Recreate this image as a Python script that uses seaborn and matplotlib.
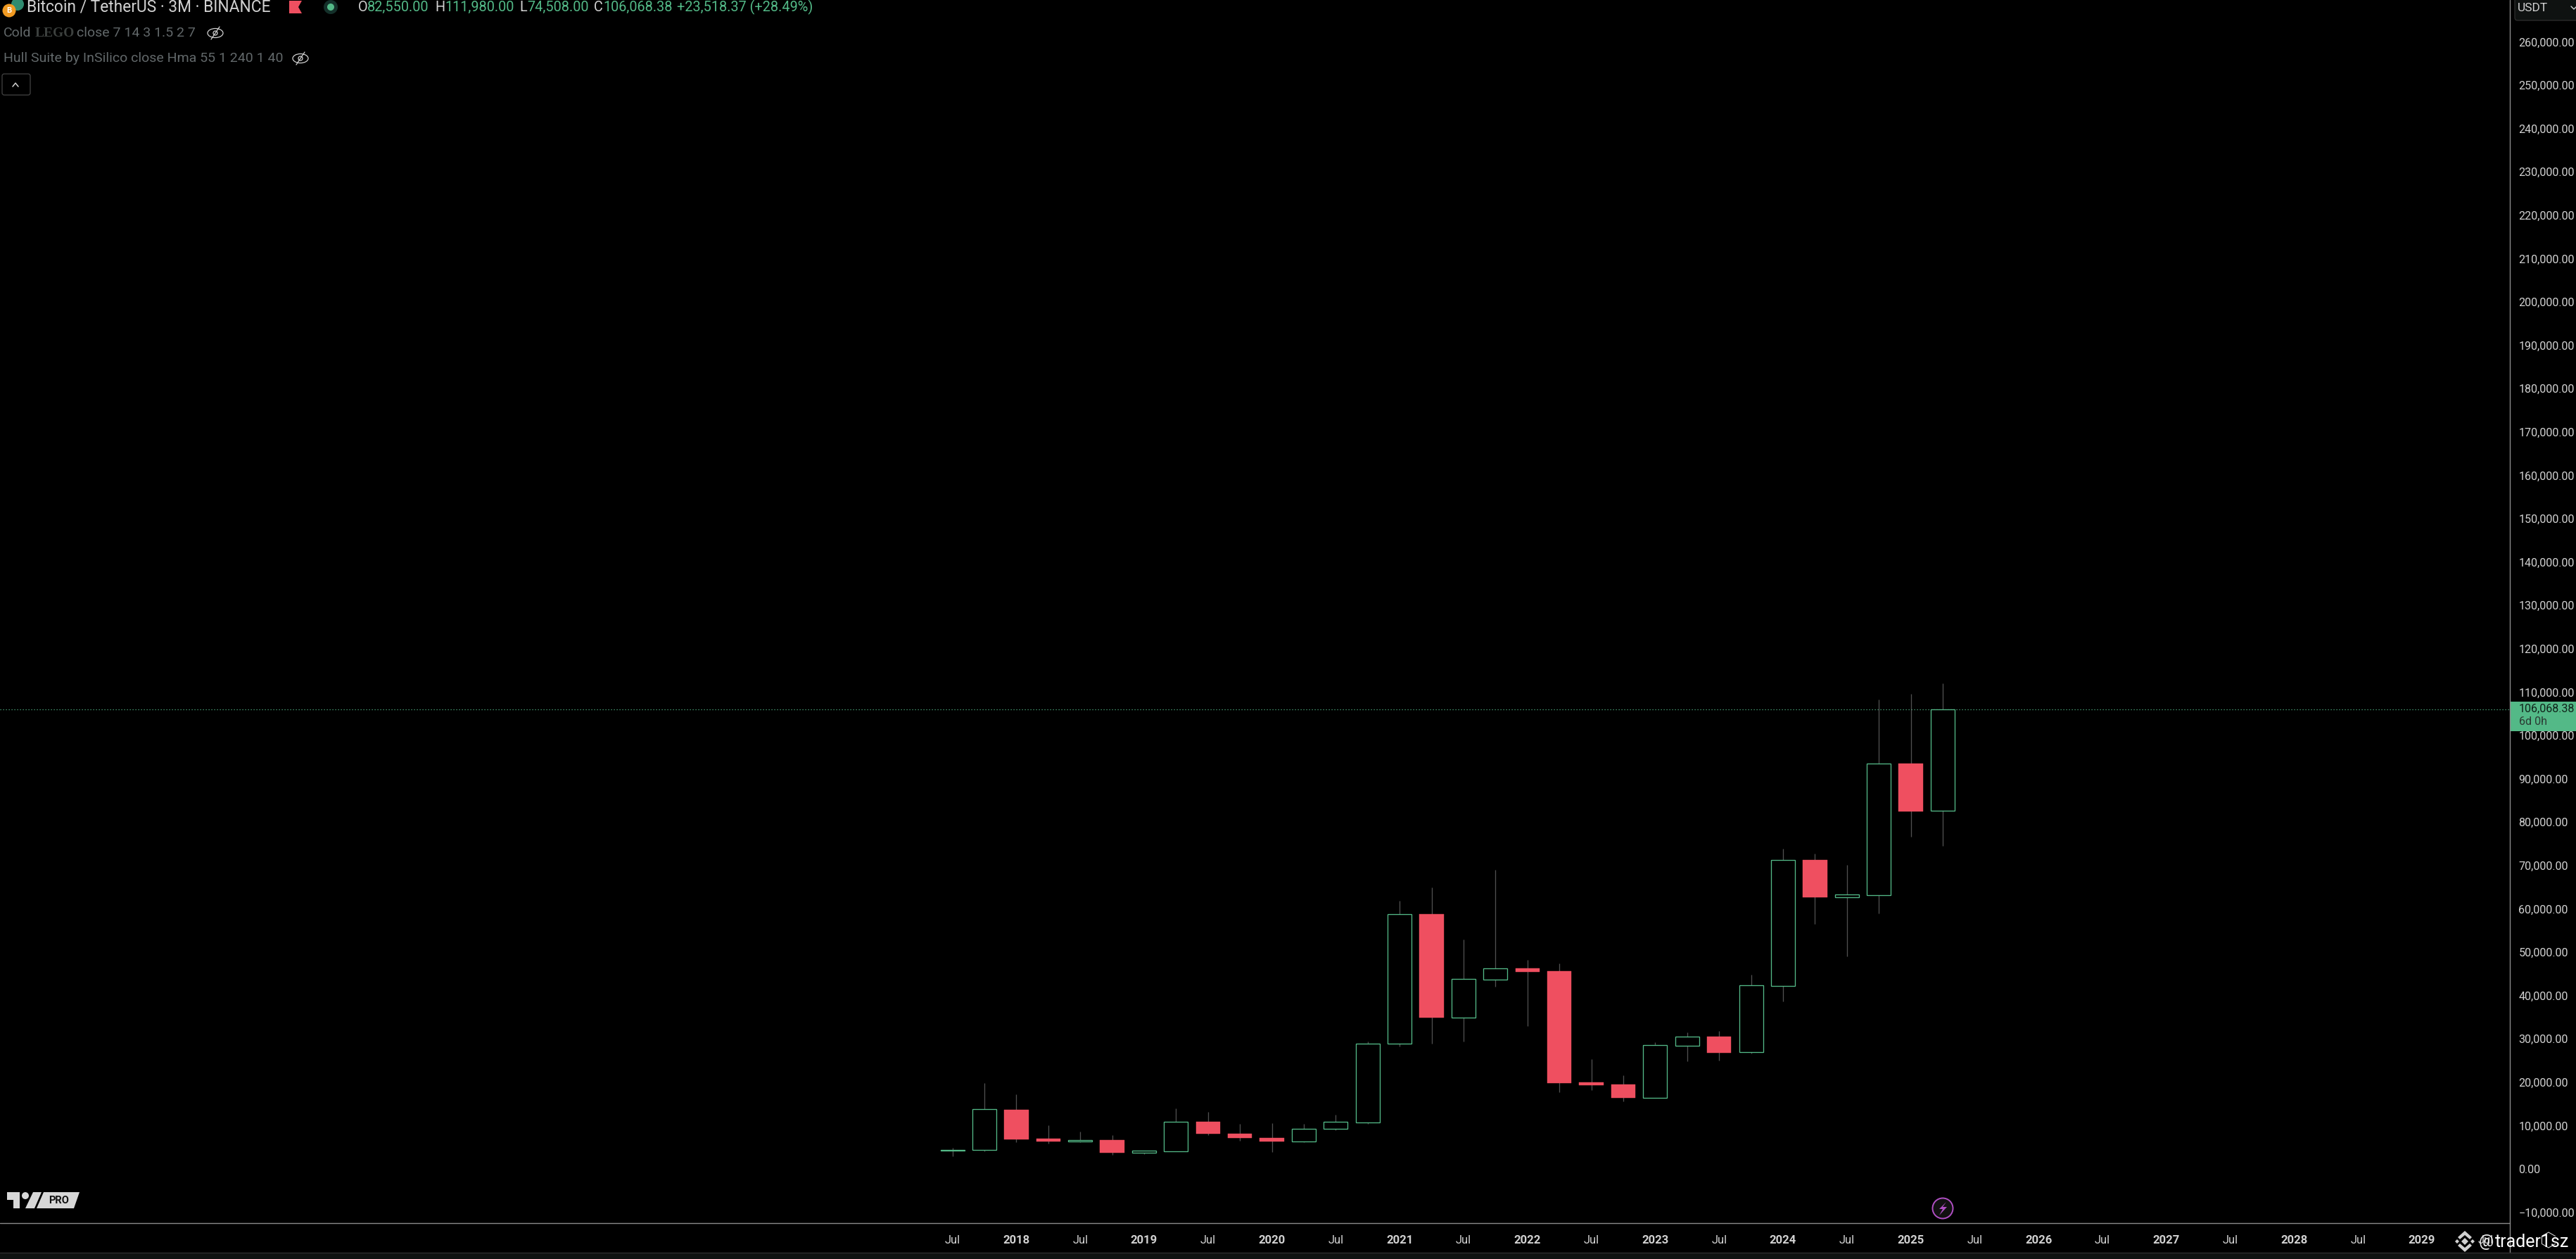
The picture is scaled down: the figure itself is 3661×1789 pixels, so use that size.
import numpy as np
import pandas as pd
import matplotlib
matplotlib.use('Agg')
import matplotlib.pyplot as plt
from matplotlib.patches import Circle, Ellipse, Polygon, Rectangle, FancyBboxPatch
import seaborn as sns

# quarterly candles, first one is Jul 2017
opens = [4261, 4378, 13716, 7010, 6391, 6650, 3700, 4100, 10830, 8120, 7180, 6410, 9190, 10770,
         28840, 58760, 34960, 43720, 46250, 45620, 19970, 19480, 16450, 28460, 30520, 26900,
         42260, 71270, 62710, 63200, 93510, 82550]
highs = [4950, 19775, 17200, 10050, 8600, 7800, 4230, 13960, 13140, 10400, 10560, 10400, 12440, 29380,
         61850, 64940, 52920, 68990, 48220, 47400, 25330, 21590, 29220, 31490, 31820, 44810,
         73860, 72730, 70130, 108280, 109580, 111980]
lows = [2925, 4110, 6090, 5830, 6090, 3300, 3350, 4070, 7800, 6500, 3900, 6150, 8900, 10440,
        28300, 28900, 29380, 42050, 32950, 17700, 18180, 15580, 16450, 24840, 25000, 26620,
        38640, 56490, 49030, 58930, 76620, 74508]
closes = [4378, 13760, 6820, 6350, 6650, 3700, 4170, 10800, 8120, 7150, 6350, 9190, 10800, 28840,
          58710, 34900, 43780, 46210, 45450, 19800, 19320, 16400, 28510, 30470, 26790, 42320,
          71220, 62660, 63260, 93460, 82470, 106068.38]
last_price = 106068.38

price_ticks = list(range(-10000, 270000, 10000))
time_ticks = list(range(0, 50, 2))
time_labels = ['Jul', '2018', 'Jul', '2019', 'Jul', '2020', 'Jul', '2021', 'Jul', '2022', 'Jul', '2023', 'Jul',
               '2024', 'Jul', '2025', 'Jul', '2026', 'Jul', '2027', 'Jul', '2028', 'Jul', '2029', 'Jul']

GREEN = '#53b987'
RED = '#ef4f60'
WICK = '#505050'
LABEL = '#d1d1d1'
PANEL = '#0f1211'
AXLINE = '#8a8a8a'

sns.set_theme(style='dark')
plt.rcParams['font.family'] = ['Roboto', 'DejaVu Sans']

df = pd.DataFrame({'idx': range(len(opens)), 'open': opens, 'high': highs, 'low': lows, 'close': closes})
df['bottom'] = df[['open', 'close']].min(axis=1)
df['height'] = (df['close'] - df['open']).abs()
up = df[df['close'] >= df['open']]
down = df[df['close'] < df['open']]

W, H = 3662, 1789
fig = plt.figure(figsize=(W / 100, H / 100), dpi=100, facecolor='black')
ax = fig.add_axes([0, 1 - 1738 / H, 3567 / W, 1738 / H], facecolor='black')

ax.vlines(df['idx'], df['low'], df['high'], color=WICK, lw=0.95, zorder=1)
sns.barplot(data=up, x='idx', y='height', bottom=up['bottom'], native_scale=True, errorbar=None, ax=ax,
            width=0.75, color='black', saturation=1, edgecolor=GREEN, linewidth=0.95, zorder=2)
sns.barplot(data=down, x='idx', y='height', bottom=down['bottom'], native_scale=True, errorbar=None, ax=ax,
            width=0.76, color=RED, saturation=1, edgecolor=RED, linewidth=0.3, zorder=2)
ax.axhline(last_price, color=GREEN, lw=0.9, ls=(0, (1, 2.2)), zorder=1.5)

ax.set_xlim(-1353.6 / 45.4, (3567 - 1353.6) / 45.4)
ax.set_ylim(-77 / 0.00616, 1661 / 0.00616)
ax.grid(False)
ax.set_xlabel('')
ax.set_ylabel('')
for s in ax.spines.values():
    s.set_visible(False)

ax.yaxis.tick_right()
ax.set_yticks(price_ticks)
ax.set_yticklabels([f'{v:,.2f}'.replace('-', '\u2212') for v in price_ticks], color=LABEL, fontsize=11.6)
ax.tick_params(axis='y', length=0, pad=9)
ax.set_xticks(time_ticks)
ax.set_xticklabels(time_labels, color=LABEL, fontsize=12)
for t in ax.get_xticklabels():
    if t.get_text() != 'Jul':
        t.set_fontweight('bold')
ax.tick_params(axis='x', length=0, pad=12)

# overlay in pixel coordinates for the TradingView furniture
ov = fig.add_axes([0, 0, 1, 1], facecolor='none', zorder=5)
ov.set_xlim(0, W)
ov.set_ylim(H, 0)
ov.axis('off')

ov.plot([0, 3567], [1738, 1738], color=AXLINE, lw=1.0)
ov.plot([3567, 3567], [0, 1780], color=AXLINE, lw=1.0)
ov.add_patch(Rectangle((0, 1780), W, 9, fc=PANEL, ec='none'))
ov.plot([0, W], [1780, 1780], color='#2e2e2e', lw=1.0)

# currency button
ov.add_patch(FancyBboxPatch((3574, -10), 100, 39, boxstyle='round,pad=0,rounding_size=4', fc=PANEL, ec='#333333', lw=0.8))
ov.text(3578, 11, 'USDT', color=LABEL, fontsize=12.5, va='center')
ov.plot([3654, 3658, 3662], [9, 13, 9], color=LABEL, lw=1)

# last price tag
ov.add_patch(Rectangle((3568, 997), 94, 42, fc=GREEN, ec='none'))
ov.text(3580, 1007.5, '106,068.38', color='#10231a', fontsize=11.6, va='center')
ov.text(3580, 1026, '6d 0h', color='#2b3a33', fontsize=11.6, va='center')

# legend header
ov.add_patch(Circle((25, 6), 9, fc='#2e8b6f', ec='none'))
ov.add_patch(Circle((13, 15), 9.5, fc='#f09a22', ec='none'))
ov.text(13, 15, 'B', color='white', fontsize=8, fontweight='bold', ha='center', va='center')
ov.text(38, 10, 'Bitcoin / TetherUS \u00b7 3M \u00b7 BINANCE', color=LABEL, fontsize=16.4, va='center')
ov.add_patch(Polygon([(411, 1), (429, 1), (424, 10), (429, 19), (411, 19)], fc=RED, ec='none'))
ov.add_patch(Circle((470, 10), 10, fc='#14302a', ec='none'))
ov.add_patch(Circle((470, 10), 5, fc=GREEN, ec='none'))
for x, s, c in [(509, 'O', LABEL), (522, '82,550.00', GREEN), (618, 'H', LABEL), (632, '111,980.00', GREEN),
                (738, 'L', LABEL), (749, '74,508.00', GREEN), (844, 'C', LABEL), (857, '106,068.38', GREEN),
                (962, '+23,518.37 (+28.49%)', GREEN)]:
    ov.text(x, 10, s, color=c, fontsize=14.3, va='center')

DIM = '#62686a'
ov.text(5, 47, 'Cold', color=DIM, fontsize=14, va='center')
ov.text(50, 47, 'LEGO', color='#3c403e', fontsize=14, va='center', family=['Liberation Serif'], fontweight='bold')
ov.text(109, 47, 'close 7 14 3 1.5 2 7', color=DIM, fontsize=14, va='center')
ov.text(5, 83, 'Hull Suite by InSilico close Hma 55 1 240 1 40', color=DIM, fontsize=14, va='center')
for x, y in [(306, 47), (427, 83)]:
    ov.add_patch(Ellipse((x, y), 22, 13, fc='none', ec=LABEL, lw=0.9))
    ov.add_patch(Circle((x, y), 3, fc='none', ec=LABEL, lw=0.9))
    ov.plot([x - 6, x + 6], [y + 9, y - 9], color=LABEL, lw=0.9)
ov.add_patch(FancyBboxPatch((3, 105), 40, 30, boxstyle='round,pad=0,rounding_size=3', fc='black', ec='#444444', lw=0.9))
ov.plot([18, 22, 26], [123, 118, 123], color=LABEL, lw=1.1)

# TV PRO logo
LOGO = '#d8d8d8'
ov.add_patch(Polygon([(10, 1694), (28, 1694), (28, 1717), (19, 1717), (19, 1705), (10, 1705)], fc=LOGO, ec='none'))
ov.add_patch(Circle((36, 1699), 5, fc=LOGO, ec='none'))
ov.add_patch(Polygon([(47, 1694), (59, 1694), (49, 1717), (36, 1717)], fc=LOGO, ec='none'))
ov.add_patch(Polygon([(62, 1694), (113, 1694), (105, 1717), (52, 1717)], fc=LOGO, ec='none'))
ov.text(84, 1706, 'PRO', color='#111111', fontsize=10.5, fontweight='bold', ha='center', va='center')

# lightning badge
ov.add_patch(Circle((2761, 1717), 14.5, fc='#111111', ec='#b04fc4', lw=1.4))
ov.add_patch(Polygon([(2766, 1708), (2756, 1718), (2761, 1718), (2756, 1727), (2767, 1715), (2761, 1715)], fc='#b04fc4', ec='none'))

# watermark
ov.add_patch(Polygon([(3503, 1759), (3508, 1764), (3503, 1769), (3498, 1764)], fc=LABEL, ec='none'))
for cx in (3492, 3514):
    ov.add_patch(Polygon([(cx, 1761), (cx + 3, 1764), (cx, 1767), (cx - 3, 1764)], fc=LABEL, ec='none'))
ov.add_patch(Polygon([(3503, 1749), (3513, 1758), (3510, 1761), (3503, 1755), (3496, 1761), (3493, 1758)], fc=LABEL, ec='none'))
ov.add_patch(Polygon([(3503, 1779), (3513, 1770), (3510, 1767), (3503, 1773), (3496, 1767), (3493, 1770)], fc=LABEL, ec='none'))
ov.text(3523, 1765, '@', color='#e6e6e6', fontsize=17, va='center')
ov.text(3546, 1765, 'trader1sz', color='white', fontsize=18, va='center')
hx = 3622 + 11 * np.cos(np.radians(np.arange(30, 390, 60)))
hy = 1762 + 11 * np.sin(np.radians(np.arange(30, 390, 60)))
ov.plot(hx, hy, color=LABEL, lw=0.8)

fig.savefig('out.png', dpi=100, facecolor='black')
